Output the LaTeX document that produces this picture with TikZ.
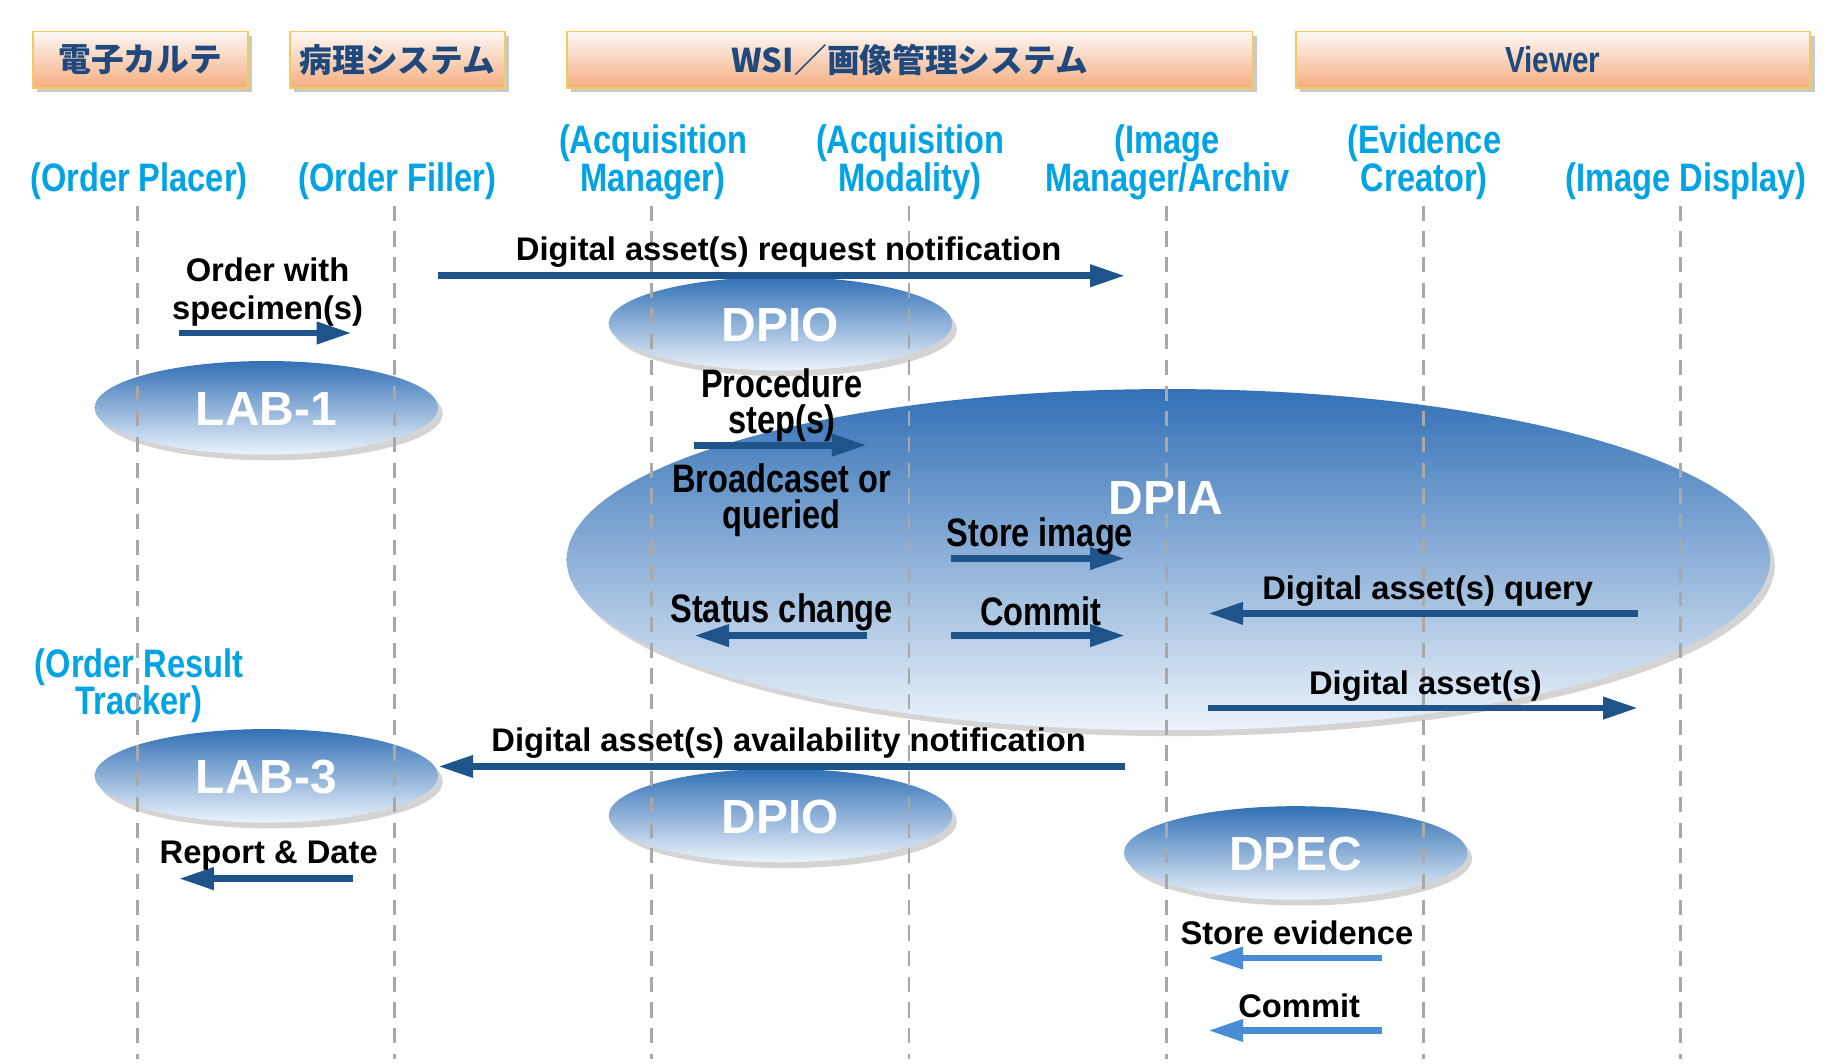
\documentclass[tikz,border=0pt]{standalone}
\usepackage{fontspec}
\setmainfont{Liberation Sans}
\newfontfamily\narrowf{Liberation Sans}[FakeStretch=0.82]
\newfontfamily\cjk{Noto Sans CJK JP}
\usetikzlibrary{shapes.geometric,arrows.meta,shadows}
\definecolor{lblcyan}{RGB}{0,163,228}
\definecolor{hdrtxt}{RGB}{31,73,125}
\definecolor{arrdark}{RGB}{31,84,138}
\definecolor{arrlight}{RGB}{72,142,214}
\definecolor{elltop}{RGB}{50,112,182}
\definecolor{ellmid}{RGB}{122,168,218}
\definecolor{ellbot}{RGB}{236,243,251}
\definecolor{hdrtop}{RGB}{253,248,245}
\definecolor{hdrbot}{RGB}{244,174,128}
\definecolor{hdrborder}{RGB}{242,202,96}
\definecolor{lifegray}{RGB}{168,168,168}
\tikzset{
  hdrbox/.style={rectangle, draw=hdrborder, line width=0.8pt, top color=hdrtop, bottom color=hdrbot,
     minimum height=24pt, inner sep=0pt,
     drop shadow={shadow xshift=2pt, shadow yshift=-2pt, opacity=0.35, fill=black!60}},
  hdrjp/.style={text=hdrtxt, font=\cjk\bfseries\fontsize{14}{16}\selectfont},
  hdrlat/.style={text=hdrtxt, font=\narrowf\bfseries\fontsize{15.5}{18}\selectfont},
  actorlbl/.style={text=lblcyan, align=center, inner sep=0pt, font=\narrowf\bfseries\fontsize{17}{16}\selectfont},
  msg/.style={text=black, align=center, inner sep=0pt, font=\bfseries\fontsize{14}{16}\selectfont},
  msgn/.style={text=black, align=center, inner sep=0pt, font=\narrowf\bfseries\fontsize{17}{15.5}\selectfont},
  ellbox/.style={ellipse, draw=none, inner sep=0pt, top color=elltop, middle color=ellmid, bottom color=ellbot,
     drop shadow={shadow xshift=2pt, shadow yshift=-2.5pt, opacity=0.3, fill=black!55}},
  elltxt/.style={text=white, inner sep=0pt, font=\bfseries\fontsize{20.5}{24}\selectfont},
  lifeline/.style={draw=lifegray, line width=1.25pt, dash pattern=on 6.5pt off 4.5pt},
  arr/.style={draw=arrdark, line width=2.9pt, -{Triangle[length=15pt,width=9pt]}},
  arrl/.style={draw=arrlight, line width=2.9pt, -{Triangle[length=15pt,width=9pt]}}
}
\begin{document}
\begin{tikzpicture}[x=0.5pt,y=-0.5pt]
\useasboundingbox[fill=white] (0,0) rectangle (1568,910);

% header boxes
\node[hdrbox, minimum width=92pt]    (h1) at (120,51)   {};
\node[hdrbox, minimum width=92pt]    (h2) at (340,51)   {};
\node[hdrbox, minimum width=293.5pt] (h3) at (778.5,51) {};
\node[hdrbox, minimum width=220pt]   (h4) at (1329,51)  {};
\node[hdrjp] (h1t) at (h1) {電子カルテ};
\node[hdrjp] (h2t) at (h2) {病理システム};
\node[hdrjp] (h3t) at (h3) {WSI／画像管理システム};
\node[hdrlat] (h4t) at (h4) {Viewer};

% actor labels
\node[actorlbl] (a1) at (119,155) {(Order Placer)};
\node[actorlbl] (a2) at (340,155) {(Order Filler)};
\node[actorlbl] (a3) at (559,139) {(Acquisition\\Manager)};
\node[actorlbl] (a4) at (779,139) {(Acquisition\\Modality)};
\node[actorlbl] (a5) at (999,139) {(Image\\Manager/Archiv};
\node[actorlbl] (a6) at (1219,139) {(Evidence\\Creator)};
\node[actorlbl] (a7) at (1443,155) {(Image Display)};
\node[actorlbl] (a8) at (119,587) {(Order Result\\Tracker)};

% ellipses
\node[ellbox, minimum width=147pt, minimum height=40pt] (lab1) at (228,349) {};
\node[ellbox, minimum width=147pt, minimum height=40pt] (dpio1) at (668,277) {};
\node[ellbox, minimum width=515pt, minimum height=146pt] (dpia) at (1000,479) {};
\node[ellbox, minimum width=147pt, minimum height=40pt] (lab3) at (228,664) {};
\node[ellbox, minimum width=147pt, minimum height=40pt] (dpio2) at (668,698) {};
\node[ellbox, minimum width=147pt, minimum height=40pt] (dpec) at (1109,730) {};

% lifelines
\foreach \i/\x in {1/118,2/338,3/558,4/778,5/998,6/1218,7/1438}{
  \coordinate (lt\i) at (\x,176);
  \coordinate (lb\i) at (\x,906);
  \draw[lifeline] (lt\i) -- (lb\i);
}

% ellipse texts
\node[elltxt] (lab1t) at (228,350) {LAB-1};
\node[elltxt] (dpio1t) at (668,278) {DPIO};
\node[elltxt] (dpiat) at (998,426) {DPIA};
\node[elltxt] (lab3t) at (228,665) {LAB-3};
\node[elltxt] (dpio2t) at (668,699) {DPIO};
\node[elltxt] (dpect) at (1109,731) {DPEC};

% arrow end points
\coordinate (r1s) at (375,236);  \coordinate (r1e) at (963,236);
\coordinate (o1s) at (153,285);  \coordinate (o1e) at (301,285);
\coordinate (p1s) at (594,381);  \coordinate (p1e) at (742,381);
\coordinate (s1s) at (814,478);  \coordinate (s1e) at (963,478);
\coordinate (c1s) at (742,544);  \coordinate (c1e) at (594,544);
\coordinate (m1s) at (814,544);  \coordinate (m1e) at (963,544);
\coordinate (q1s) at (1402,525); \coordinate (q1e) at (1034,525);
\coordinate (d1s) at (1034,606); \coordinate (d1e) at (1402,606);
\coordinate (n1s) at (963,656);  \coordinate (n1e) at (375,656);
\coordinate (e1s) at (302,752);  \coordinate (e1e) at (153,752);
\coordinate (v1s) at (1183,820); \coordinate (v1e) at (1034,820);
\coordinate (w1s) at (1183,882); \coordinate (w1e) at (1034,882);

\draw[arr] (r1s) -- (r1e);
\draw[arr] (o1s) -- (o1e);
\draw[arr] (p1s) -- (p1e);
\draw[arr] (s1s) -- (s1e);
\draw[arr] (c1s) -- (c1e);
\draw[arr] (m1s) -- (m1e);
\draw[arr] (q1s) -- (q1e);
\draw[arr] (d1s) -- (d1e);
\draw[arr] (n1s) -- (n1e);
\draw[arr] (e1s) -- (e1e);
\draw[arrl] (v1s) -- (v1e);
\draw[arrl] (w1s) -- (w1e);

% message labels
\node[msg] (t1) at (675,216) {Digital asset(s) request notification};
\node[msg] (t2) at (229,250) {Order with\\specimen(s)};
\node[msgn] (t3) at (669,347) {Procedure\\step(s)};
\node[msgn] (t4) at (669,428) {Broadcaset or\\queried};
\node[msgn] (t5) at (890,459) {Store image};
\node[msgn] (t6) at (669,524) {Status change};
\node[msgn] (t7) at (891,523) {Commit};
\node[msg] (t8) at (1222,506) {Digital asset(s) query};
\node[msg] (t9) at (1220,587) {Digital asset(s)};
\node[msg] (t10) at (675,636) {Digital asset(s) availability notification};
\node[msg] (t11) at (230,732) {Report \& Date};
\node[msg] (t12) at (1110,798) {Store evidence};
\node[msg] (t13) at (1112,861) {Commit};
\end{tikzpicture}
\end{document}
